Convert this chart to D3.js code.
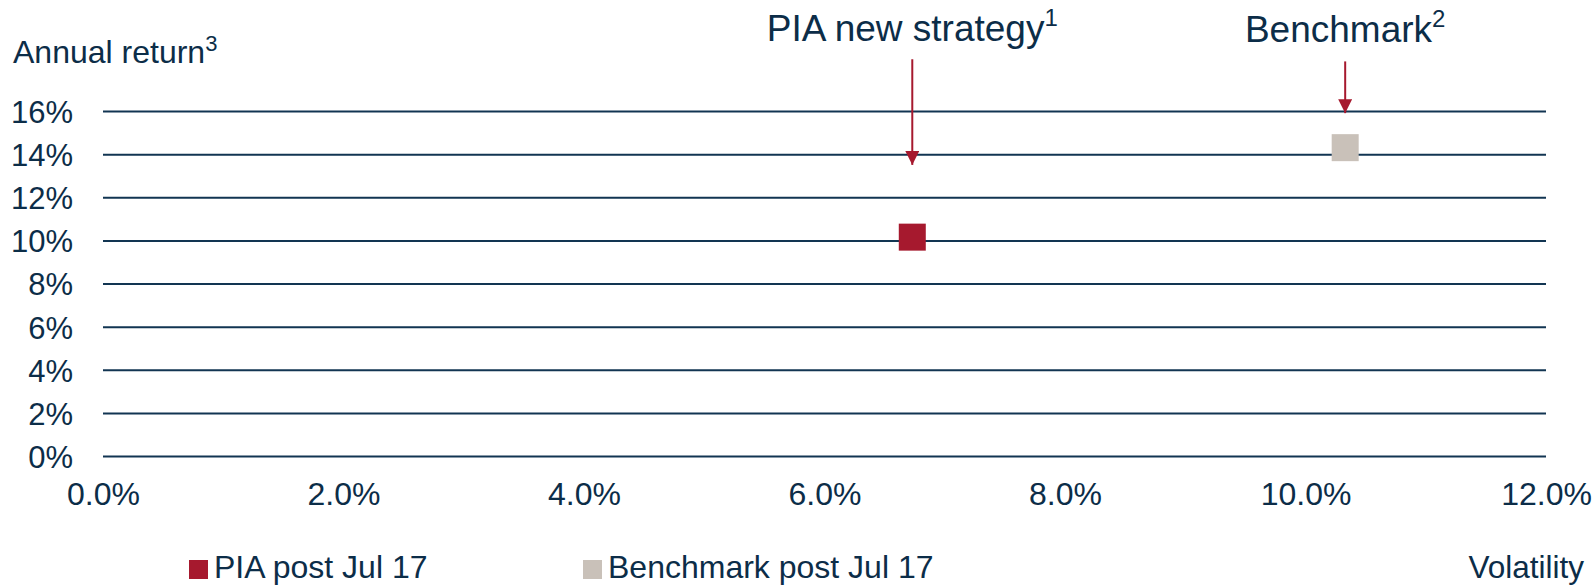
<!DOCTYPE html>
<meta charset="utf-8">
<script src="https://cdn.jsdelivr.net/npm/d3@7/dist/d3.min.js"></script>
<style>
body { margin: 0; background: #fff; }
text {
  fill: #0c2d48;
  font-family: "Liberation Sans", Arial, sans-serif;
}
.grid line { stroke: #123552; stroke-width: 2px; }
</style>
<body>
<script>

// volatility (%) vs annual return (%)
var seriesNames = ["PIA post Jul 17", "Benchmark post Jul 17"];
var seriesColors = ["#a6192e", "#c9c1b9"];
var volatility = [6.73, 10.33];
var annualReturn = [10.15, 14.3];

var yTicks = [0, 2, 4, 6, 8, 10, 12, 14, 16];
var xTicks = [0, 2, 4, 6, 8, 10, 12];

// callouts above each point: label, footnote, arrow top / tip (return %)
var calloutLabels = ["PIA new strategy", "Benchmark"];
var calloutNotes = ["1", "2"];
var arrowTop = [18.4, 18.3];
var arrowTip = [13.5, 15.9];
var labelY = [19.25, 19.2];

var width = 1595,
    height = 586;

var x = d3.scaleLinear().domain([0, 12]).range([103, 1546]);
var y = d3.scaleLinear().domain([0, 16]).range([456, 111]);

var svg = d3.select("body").append("svg")
    .attr("width", width)
    .attr("height", height);

// horizontal grid + y labels
var yAxis = svg.append("g")
    .attr("class", "grid")
    .attr("transform", "translate(" + x(0) + ",0)")
    .call(d3.axisLeft(y)
        .tickValues(yTicks)
        .tickSize(-(x(12) - x(0)))
        .tickPadding(30)
        .tickFormat(function(d) { return d + "%"; }));
yAxis.select(".domain").remove();
yAxis.selectAll("text")
    .attr("fill", "#0c2d48")
    .style("font-size", "31px")
    .attr("dy", "0.37em");

// x labels
var xAxis = svg.append("g")
    .attr("transform", "translate(0," + y(0) + ")")
    .call(d3.axisBottom(x)
        .tickValues(xTicks)
        .tickSize(0)
        .tickFormat(function(d) { return d3.format(".1f")(d) + "%"; }));
xAxis.select(".domain").remove();
xAxis.selectAll("text")
    .attr("fill", "#0c2d48")
    .style("font-size", "32px")
    .attr("y", 49)
    .attr("dy", 0);

// axis titles
var yTitle = svg.append("text")
    .attr("x", 13)
    .attr("y", 63)
    .style("font-size", "32px")
    .text("Annual return");
yTitle.append("tspan")
    .attr("dy", -12)
    .style("font-size", "22px")
    .text("3");

svg.append("text")
    .attr("x", 1584)
    .attr("y", 578)
    .attr("text-anchor", "end")
    .style("font-size", "31.5px")
    .text("Volatility");

// arrow head
svg.append("defs").append("marker")
    .attr("id", "head")
    .attr("viewBox", "0 0 10 10")
    .attr("refX", 10)
    .attr("refY", 5)
    .attr("markerWidth", 7)
    .attr("markerHeight", 7)
    .attr("markerUnits", "strokeWidth")
    .attr("orient", "auto")
  .append("path")
    .attr("d", "M0,0L10,5L0,10Z")
    .attr("fill", "#a6192e");

// callouts
volatility.forEach(function(v, i) {
  svg.append("line")
      .attr("x1", x(v))
      .attr("x2", x(v))
      .attr("y1", y(arrowTop[i]))
      .attr("y2", y(arrowTip[i]))
      .attr("stroke", "#a6192e")
      .attr("stroke-width", 2)
      .attr("marker-end", "url(#head)");

  var t = svg.append("text")
      .attr("x", x(v))
      .attr("y", y(labelY[i]))
      .attr("text-anchor", "middle")
      .style("font-size", "37px")
      .text(calloutLabels[i]);
  t.append("tspan")
      .attr("dy", -15)
      .style("font-size", "24px")
      .text(calloutNotes[i]);
});

// points
var s = 27;
svg.selectAll("rect.pt")
    .data(volatility)
    .enter().append("rect")
    .attr("class", "pt")
    .attr("x", function(d) { return x(d) - s / 2; })
    .attr("y", function(d, i) { return y(annualReturn[i]) - s / 2; })
    .attr("width", s)
    .attr("height", s)
    .attr("fill", function(d, i) { return seriesColors[i]; });

// legend
var legendX = [189, 583];
var lg = svg.selectAll("g.lg")
    .data(seriesNames)
    .enter().append("g")
    .attr("class", "lg")
    .attr("transform", function(d, i) { return "translate(" + legendX[i] + ",560)"; });
lg.append("rect")
    .attr("width", 19)
    .attr("height", 19)
    .attr("fill", function(d, i) { return seriesColors[i]; });
lg.append("text")
    .attr("x", 25)
    .attr("y", 18)
    .style("font-size", "32px")
    .text(function(d) { return d; });

</script>
</body>
